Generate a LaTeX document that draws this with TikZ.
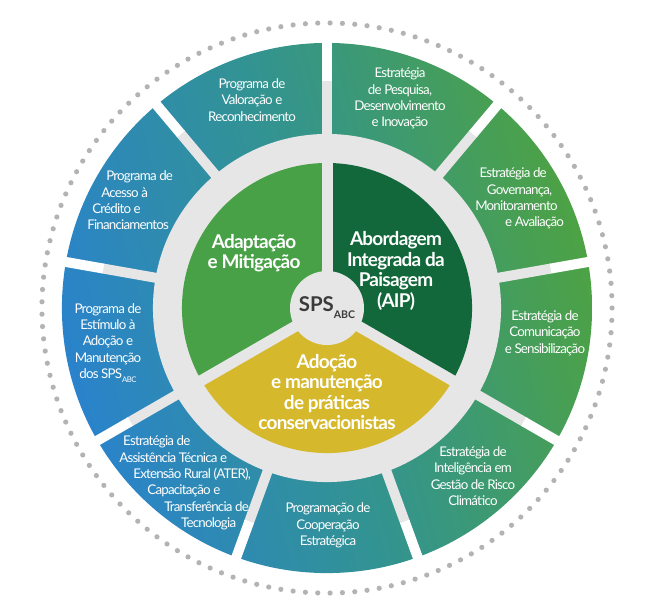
\documentclass[tikz,border=0pt]{standalone}
\usepackage{fontspec}
\setmainfont{Lato}
\newfontfamily\latoouter[LetterSpace=-6]{Lato}
\newfontfamily\latoinner[LetterSpace=-4]{Lato}
\usepackage{tikz}
\usetikzlibrary{positioning}

\definecolor{ringBlue}{HTML}{2A83CB}
\definecolor{ringTeal}{HTML}{33948F}
\definecolor{ringGreen}{HTML}{4DA244}
\definecolor{paleGrey}{HTML}{E6E6E6}
\definecolor{dotGrey}{HTML}{B3B3B3}
\definecolor{leafGreen}{HTML}{48A047}
\definecolor{forestGreen}{HTML}{12683A}
\definecolor{mustard}{HTML}{D5B82B}
\definecolor{spsGrey}{HTML}{3A3A3A}

\begin{document}
\begin{tikzpicture}[x=0.025cm, y=0.025cm,
    outer/.style={text=white, align=center, inner sep=0pt, font=\latoouter\fontsize{9.5}{11.6}\selectfont},
    inner/.style={text=white, align=center, inner sep=0pt, font=\latoinner\bfseries\fontsize{13.5}{14.5}\selectfont}]
    \useasboundingbox (-327,-298) rectangle (336,308);

    % Dotted border
    \foreach \a in {0,...,144}
        \fill[dotGrey] (360/145*\a:7.125cm) circle (0.065cm);

    % Outer ring
    \begin{scope}
        \clip (0,0) circle (6.625cm);
        \shade[left color=ringBlue, right color=ringGreen, middle color=ringTeal, shading angle=105] (-265,-265) rectangle (265,265);
    \end{scope}
    \foreach \a in {90,50,10,-30,-70,-110,-150,170,130} {
        \draw[paleGrey, line width=0.25cm] (\a:4.125cm) -- (\a:5.7cm);
        \draw[white, line width=0.25cm] (\a:5.675cm) -- (\a:6.875cm);
    }
    \fill[paleGrey] (0,0) circle (4.35cm);

    % Inner sectors
    \fill[leafGreen] (0,0) -- (90:3.625cm) arc[start angle=90, end angle=210, radius=3.625cm] -- cycle;
    \fill[forestGreen] (0,0) -- (-30:3.625cm) arc[start angle=-30, end angle=90, radius=3.625cm] -- cycle;
    \fill[mustard] (0,0) -- (210:3.625cm) arc[start angle=210, end angle=330, radius=3.625cm] -- cycle;
    \foreach \a in {90,210,330}
        \draw[paleGrey, line width=0.275cm] (0,0) -- (\a:3.75cm);

    % Nodes
    \node (sps) [circle, fill=paleGrey, minimum size=1.85cm, inner sep=0pt, text=spsGrey, font=\bfseries\fontsize{14.5}{14.5}\selectfont] at (0,0) {SPS\raisebox{-0.35em}{\fontsize{7.5}{8}\selectfont ABC}};

    \node (adaptacao) [inner] at (-73,55) {Adaptação\\e Mitigação};
    \node (abordagem) [inner] at (69,37) {Abordagem\\Integrada da\\Paisagem\\(AIP)};
    \node (adocao) [inner] at (0,-84) {Adoção\\e manutenção\\de práticas\\conservacionistas};

    \node (valoracao) [outer] at (-75,208) {Programa de\\Valoração e\\Reconhecimento};
    \node (pesquisa) [outer] at (73,209.5) {Estratégia\\de Pesquisa,\\Desenvolvimento\\e Inovação};
    \node (governanca) [outer, align=left, anchor=west] at (148,109.5) {\hspace*{3pt}Estratégia de\\\hspace*{8.3pt}Governança,\\Monitoramento\\\hspace*{21.3pt}e Avaliação};
    \node (comunicacao) [outer] at (218,-25) {Estratégia de\\Comunicação\\e Sensibilização};
    \node (inteligencia) [outer] at (146,-168) {Estratégia de\\Inteligência em\\Gestão de Risco\\Climático};
    \node (cooperacao) [outer] at (1,-217.5) {Programação de\\Cooperação\\Estratégica};
    \node (assistencia) [outer, align=left, anchor=west] at (-208,-175) {\hspace*{2.8pt}Estratégia de\\Assistência Técnica e\\\hspace*{10pt}Extensão Rural (ATER),\\\hspace*{20pt}Capacitação e\\\hspace*{32pt}Transferência de\\\hspace*{44pt}Tecnologia};
    \node (estimulo) [outer] at (-219,-35) {Programa de\\Estímulo à\\Adoção e\\Manutenção\\dos SPS\raisebox{-0.3em}{\fontsize{5.5}{6}\selectfont ABC}};
    \node (acesso) [outer, align=left, anchor=west] at (-240,107.5) {\hspace*{13.5pt}Programa de\\\hspace*{10pt}Acesso à\\\hspace*{3.6pt}Crédito e\\Financiamentos};
\end{tikzpicture}
\end{document}
